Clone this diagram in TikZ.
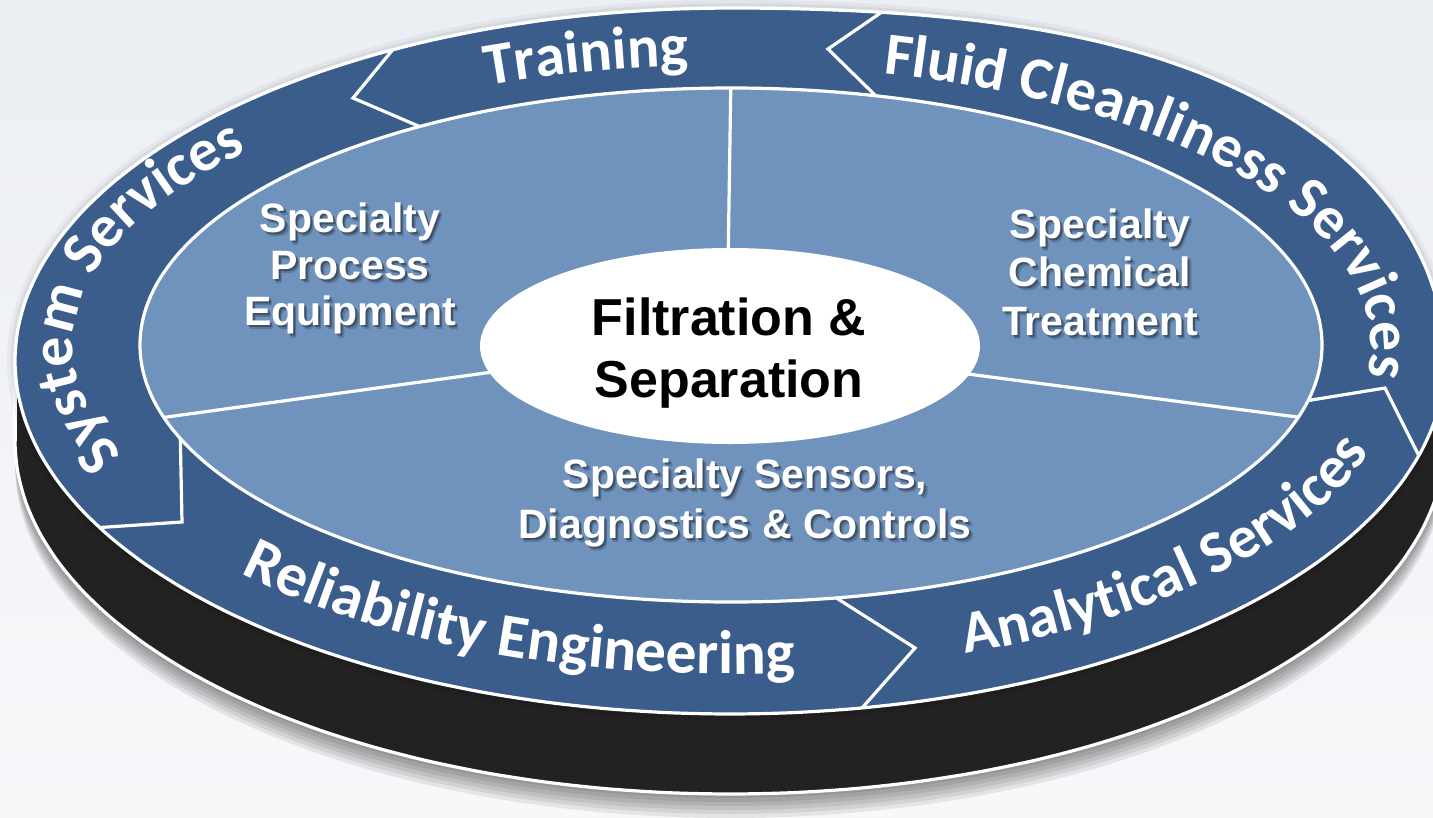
\documentclass[tikz,border=0pt]{standalone}
\usepackage{fontspec}
\setmainfont{Liberation Sans}
\newfontfamily\ringfamily{Carlito}
\usetikzlibrary{decorations.text}

\definecolor{ringblue}{RGB}{59,93,139}
\definecolor{innerblue}{RGB}{112,147,190}
\definecolor{sideblack}{RGB}{34,34,34}
\definecolor{bgtop}{RGB}{235,238,243}
\definecolor{bgbottom}{RGB}{247,248,250}

% outline of the top face of the disc (pixel-like units, y pointing down);
% an ellipse that swells a little towards the upper right
\newcommand\discpath{plot[smooth cycle, domain=0:355, samples=72, variable=\t]
  ({730+(715+ifthenelse(\t<90.1,22*(sin(2*\t))^2,0))*cos(\t)},
   {361-(353+ifthenelse(\t<90.1,22*(sin(2*\t))^2,0))*sin(\t)})}
\newcommand\ringfont{\ringfamily\bfseries\fontsize{60}{60}\selectfont}
\newcommand\ringfontlow{\ringfamily\bfseries\fontsize{61.5}{61.5}\selectfont}

\begin{document}
\begin{tikzpicture}[x=1pt, y=-1pt,
  edge/.style={white, line width=3.2pt, line join=miter},
  inlabel/.style={font=\bfseries\fontsize{41}{48}\selectfont, text=white, anchor=base, inner sep=0pt},
  inshadow/.style={inlabel, text=black, text opacity=#1},
  hub/.style={font=\bfseries\fontsize{52}{62}\selectfont, text=black, anchor=base, inner sep=0pt},
  ringtext/.style={decorate, decoration={text along path, text color=white, text align=left}}
]
\newcommand\shadowed[4]{%
  \node[inshadow=0.18] at (#2+3.5,#3+4) {#4};
  \node[inshadow=0.32] at (#2+2,#3+2.5) {#4};
  \node[inlabel] (#1) at (#2,#3) {#4};}

\useasboundingbox (0,0) rectangle (1433,817);
\clip (0,0) rectangle (1433,817);
\shade[top color=bgtop, bottom color=bgbottom] (0,0) rectangle (1433,817);

% soft shadow under the disc
\foreach \s in {84,88,...,104}
  \fill[black, opacity=.08, shift={(0,\s)}] \discpath;

% dark side of the disc
\begin{scope}[shift={(0,80)}]
  \fill[sideblack] \discpath;
  \draw[edge] \discpath;
\end{scope}
\fill[sideblack] (15,361) rectangle (1445,441);
\draw[edge] (15,361) -- (15,441);

% outer ring
\foreach \w/\o in {16/.04, 9/.05} \draw[black, opacity=\o, line width=\w] \discpath;
\fill[ringblue] \discpath;
\begin{scope}
  \clip \discpath;
  \draw[edge] (404,36) -- (353,98) -- (430,131);
  \draw[edge] (898,1) -- (828,49) -- (880,100);
  \draw[edge] (1287,404) -- (1385,388) -- (1430,478);
  \draw[edge] (827,592) -- (915,648) -- (847,725);
  \draw[edge] (180,423) -- (182,522) -- (78,529);
\end{scope}
\draw[edge] \discpath;

% inner face with its three sectors
\fill[innerblue] (731,345) ellipse[x radius=591, y radius=257];
\begin{scope}
  \clip (731,345) ellipse[x radius=591, y radius=257];
  \draw[edge] (727.5,300) -- (731.2,60);
  \draw[edge] (500,371) -- (120,423.5);
  \draw[edge] (960,373) -- (1340,422.6);
\end{scope}
\draw[edge] (731,345) ellipse[x radius=591, y radius=257];
\fill[white] (730,346) ellipse[x radius=250, y radius=98];

% hub text
\node[hub] (hub1) at (729,335) {Filtration \&};
\node[hub] (hub2) at (729,397) {Separation};

% sector texts
\shadowed{procA}{350}{232}{Specialty}
\shadowed{procB}{350}{279}{Process}
\shadowed{procC}{350}{325}{Equipment}
\shadowed{chemA}{1100}{238}{Specialty}
\shadowed{chemB}{1100}{286}{Chemical}
\shadowed{chemC}{1100}{335}{Treatment}
\shadowed{sensA}{745}{488}{Specialty Sensors,}
\shadowed{sensB}{745}{538}{Diagnostics \& Controls}

% ring texts
\path[ringtext, decoration={text={|\ringfont|Training}}]
  ([shift={(728,345)}]248:643 and 280) arc[start angle=248, end angle=300, x radius=643, y radius=280];
\path[ringtext, decoration={text={|\ringfont|Fluid Cleanliness Services}}]
  ([shift={(728,345)}]284:643 and 280) arc[start angle=284, end angle=385, x radius=643, y radius=280];
\path[ringtext, decoration={text={|\ringfont|System Services}}]
  ([shift={(728,345)}]157.5:655 and 285) arc[start angle=157.5, end angle=262, x radius=655, y radius=285];
\path[ringtext, decoration={text={|\ringfontlow|Reliability Engineering}}]
  ([shift={(730,355)}]136.8:672 and 319) arc[start angle=136.8, end angle=40, x radius=672, y radius=319];
\path[ringtext, decoration={text={|\ringfont|Analytical Services}}]
  ([shift={(730,355)}]69.5:672 and 319) arc[start angle=69.5, end angle=-30, x radius=672, y radius=319];
\end{tikzpicture}
\end{document}
